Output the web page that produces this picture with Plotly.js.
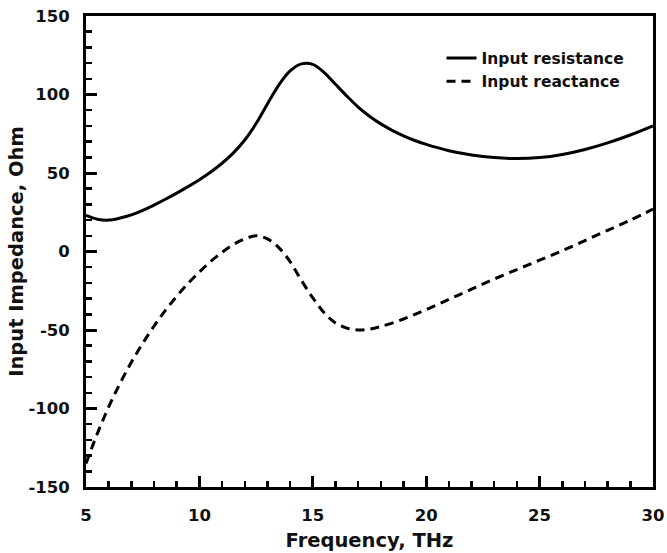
<!DOCTYPE html>
<html>
<head>
<meta charset="utf-8">
<script src="https://cdn.plot.ly/plotly-3.0.1.min.js"></script>
<style>html,body{margin:0;padding:0;background:#fff;}#chart{width:667px;height:553px;}</style>
</head>
<body>
<div id="chart"></div>
<script>
const resFreq = [5, 5.5, 6, 6.5, 7, 7.5, 8, 8.5, 9, 9.5, 10, 10.5, 11, 11.5, 12, 12.5, 13, 13.5, 14, 14.5, 15, 15.5, 16, 16.5, 17, 17.5, 18, 18.5, 19, 19.5, 20, 21, 22, 23, 24, 25, 26, 27, 28, 29, 30];
const resistance = [23, 20.6, 20, 21.3, 23.3, 26.2, 29.6, 33.3, 37.2, 41.3, 45.7, 50.6, 56.2, 62.8, 71, 81.5, 94, 106, 115, 119.5, 119.2, 114, 106.5, 99, 92, 86.2, 81.3, 77.2, 73.7, 70.7, 68.2, 64.2, 61.5, 59.8, 59.2, 59.8, 61.8, 65, 69.2, 74.2, 80];
const reaFreq = [5, 5.5, 6, 6.5, 7, 7.5, 8, 8.5, 9, 9.5, 10, 10.5, 11, 11.5, 12, 12.5, 13, 13.5, 14, 14.5, 15, 15.5, 16, 16.5, 17, 17.5, 18, 19, 20, 21, 22, 23, 24, 25, 26, 27, 28, 29, 30];
const reactance = [-135, -116, -99, -84, -70.5, -58.5, -47.5, -37.5, -28.5, -20.3, -13, -6.3, -0.5, 4.5, 8, 10, 8, 2.5, -6.5, -18.5, -29.5, -39, -45.5, -48.8, -50, -49.5, -47.8, -43, -37, -30.5, -24, -17.5, -11.5, -5.5, 0.5, 7, 13.5, 20, 27];
const seriesNames = ["Input resistance", "Input reactance"];
const xTicks = [5, 10, 15, 20, 25, 30];
const xTickText = ["5", "10", "15", "20", "25", "30"];
const yTicks = [-150, -100, -50, 0, 50, 100, 150];
const yTickText = ["-150", "-100", "-50", "0", "50", "100", "150"];
const xTitle = "Frequency, THz";
const yTitle = "Input Impedance, Ohm";

const F = "DejaVu Sans, Liberation Sans, Arial, sans-serif";
const traces = [
  {x: resFreq, y: resistance, name: seriesNames[0], mode: "lines", line: {color: "#000", width: 3, shape: "spline", smoothing: 1}},
  {x: reaFreq, y: reactance, name: seriesNames[1], mode: "lines", line: {color: "#000", width: 3, dash: "9px,6px", shape: "spline", smoothing: 1}}
];
const axisCommon = {
  showline: true, linecolor: "#000", linewidth: 3, mirror: true,
  ticks: "inside", ticklen: 11, tickwidth: 3, tickcolor: "#000",
  showgrid: false, zeroline: false,
  tickfont: {family: F, size: 16.5, color: "#111", weight: "bold"},
};
const layout = {
  width: 667, height: 553,
  margin: {l: 86, r: 14, t: 16, b: 66},
  paper_bgcolor: "#fff", plot_bgcolor: "#fff",
  showlegend: true,
  legend: {x: 0.627, y: 0.946, xanchor: "left", yanchor: "top", bgcolor: "rgba(0,0,0,0)",
           font: {family: F, size: 15.5, color: "#111", weight: "bold"}, tracegroupgap: 0},
  xaxis: Object.assign({}, axisCommon, {
    range: [5, 30], tickmode: "array", tickvals: xTicks, ticktext: xTickText, ticklabelstandoff: 11,
    minor: {dtick: 1, tick0: 5, ticks: "inside", ticklen: 6, tickwidth: 2.5, tickcolor: "#000", showgrid: false},
    title: {text: xTitle, font: {family: F, size: 19.5, color: "#111", weight: "bold"}, standoff: 10}
  }),
  yaxis: Object.assign({}, axisCommon, {
    range: [-150, 150], tickmode: "array", tickvals: yTicks, ticktext: yTickText, ticklabelstandoff: 10,
    minor: {dtick: 10, tick0: -150, ticks: "inside", ticklen: 6, tickwidth: 2.5, tickcolor: "#000", showgrid: false},
    title: {text: yTitle, font: {family: F, size: 19.5, color: "#111", weight: "bold"}, standoff: 0}
  })
};
Plotly.newPlot("chart", traces, layout, {displayModeBar: false, staticPlot: true});
</script>
</body>
</html>
